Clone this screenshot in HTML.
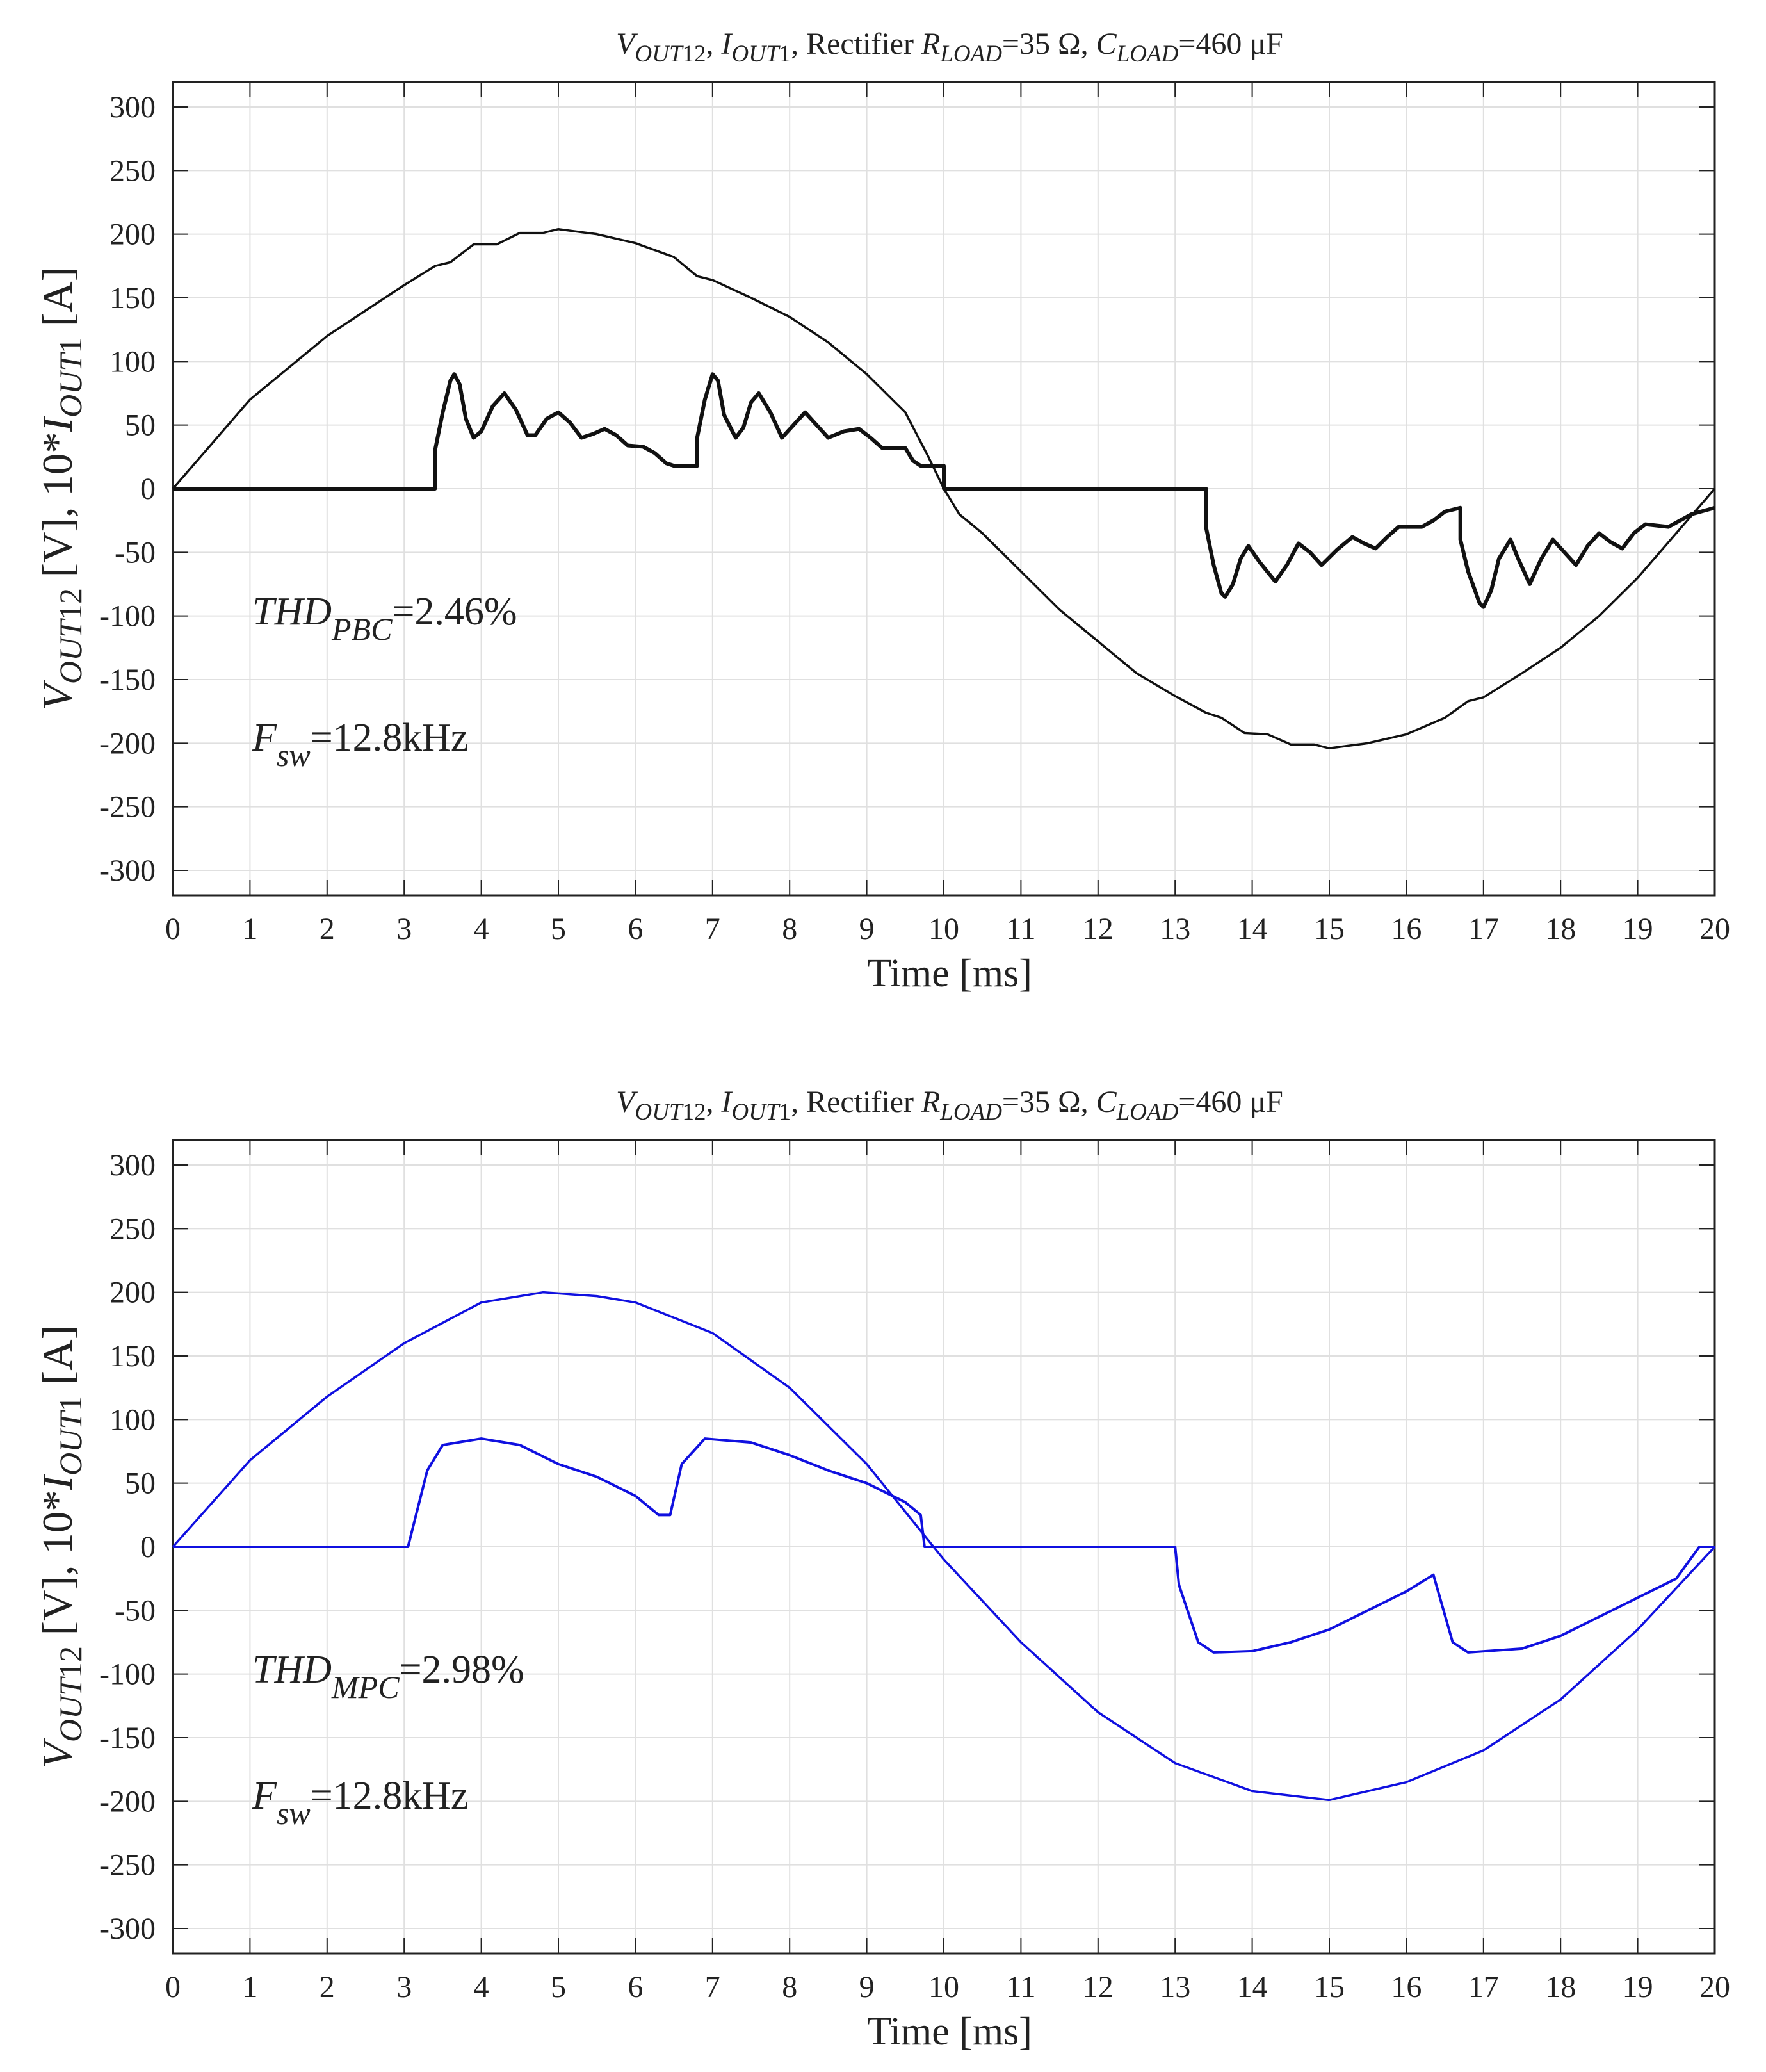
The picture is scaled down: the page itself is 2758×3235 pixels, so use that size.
<!DOCTYPE html>
<html><head><meta charset="utf-8"><style>
html,body{margin:0;padding:0;background:#fff;}
svg{display:block;font-family:"Liberation Serif",serif;}
</style></head><body>
<svg id="fig" width="2758" height="3235" xmlns="http://www.w3.org/2000/svg"></svg>
<script>
const xTicks=[0,1,2,3,4,5,6,7,8,9,10,11,12,13,14,15,16,17,18,19,20];
const yTicks=[300,250,200,150,100,50,0,-50,-100,-150,-200,-250,-300];
const pbcVt=[0,0.5,1,1.5,2,2.5,3,3.4,3.6,3.9,4.2,4.5,4.8,5,5.5,6,6.5,6.8,7,7.5,8,8.5,9,9.5,9.8,10,10.2,10.5,11,11.5,12,12.5,13,13.4,13.6,13.9,14.2,14.5,14.8,15,15.5,16,16.5,16.8,17,17.5,18,18.5,19,19.5,20];
const pbcV=[0,35,70,95,120,140,160,175,178,192,192,201,201,204,200,193,182,167,164,150,135,115,90,60,25,0,-20,-35,-65,-95,-120,-145,-163,-176,-180,-192,-193,-201,-201,-204,-200,-193,-180,-167,-164,-145,-125,-100,-70,-35,0];
const pbcIt=[0,3.4,3.4,3.5,3.6,3.65,3.72,3.8,3.9,4.0,4.15,4.3,4.45,4.6,4.7,4.85,5,5.15,5.3,5.45,5.6,5.75,5.9,6.1,6.25,6.4,6.5,6.8,6.8,6.9,7.0,7.07,7.15,7.3,7.4,7.5,7.6,7.75,7.9,8.05,8.2,8.35,8.5,8.7,8.9,9.05,9.2,9.5,9.6,9.7,10,10,13.4,13.4,13.5,13.6,13.65,13.75,13.85,13.95,14.1,14.3,14.45,14.6,14.75,14.9,15.1,15.3,15.45,15.6,15.75,15.9,16.2,16.35,16.5,16.7,16.7,16.8,16.95,17.0,17.1,17.2,17.35,17.45,17.6,17.75,17.9,18.05,18.2,18.35,18.5,18.65,18.8,18.95,19.1,19.4,19.55,19.7,20];
const pbcI=[0,0,30,60,85,90,82,55,40,45,65,75,62,42,42,55,60,52,40,43,47,42,34,33,28,20,18,18,40,70,90,85,58,40,48,68,75,60,40,50,60,50,40,45,47,40,32,32,22,18,18,0,0,-30,-60,-82,-85,-75,-55,-45,-58,-73,-60,-43,-50,-60,-48,-38,-43,-47,-38,-30,-30,-25,-18,-15,-40,-65,-90,-93,-80,-55,-40,-55,-75,-55,-40,-50,-60,-45,-35,-42,-47,-35,-28,-30,-25,-20,-15];
const mpcVt=[0,1,2,3,4,4.8,5.5,6,7,8,9,9.8,10,11,12,13,14,15,16,17,18,19,20];
const mpcV=[0,68,118,160,192,200,197,192,168,125,65,5,-10,-75,-130,-170,-192,-199,-185,-160,-120,-65,0];
const mpcIt=[0,3.05,3.3,3.5,4,4.5,5,5.5,6,6.3,6.45,6.6,6.9,7.5,8,8.5,9,9.5,9.7,9.75,13,13.05,13.3,13.5,14,14.5,15,15.5,16,16.35,16.6,16.8,17.5,18,18.5,19,19.5,19.8,20];
const mpcI=[0,0,60,80,85,80,65,55,40,25,25,65,85,82,72,60,50,35,25,0,0,-30,-75,-83,-82,-75,-65,-50,-35,-22,-75,-83,-80,-70,-55,-40,-25,0,0];

const NS="http://www.w3.org/2000/svg";
const svg=document.getElementById('fig');
function el(tag,attrs,parent){const e=document.createElementNS(NS,tag);for(const k in attrs)e.setAttribute(k,attrs[k]);(parent||svg).appendChild(e);return e;}
const L=270,R=2678;
function drawPanel(off,sub,vt,v,it,cur,color,vw,iw,pfx){
  const top=128+off,bot=1398+off,y300=167+off,y0=763+off;
  const sx=t=>L+(R-L)*t/20;
  const sy=val=>y0-(y0-y300)*val/300;
  const g=el('g',{});
  
  
  xTicks.forEach(t=>{const x=sx(t);
    const gl=el('line',{x1:x,x2:x,y1:top,y2:bot,stroke:'#e0e0e0','stroke-width':2},g);
    
    el('line',{x1:x,x2:x,y1:top,y2:top+24,stroke:'#222','stroke-width':2},g);
    el('line',{x1:x,x2:x,y1:bot,y2:bot-24,stroke:'#222','stroke-width':2},g);
    const tx=el('text',{x:x,y:bot+68,'font-size':48,'text-anchor':'middle',fill:'#222'},g);tx.textContent=t;
    
  });
  yTicks.forEach(val=>{const y=sy(val);
    const gl=el('line',{x1:L,x2:R,y1:y,y2:y,stroke:'#e0e0e0','stroke-width':2},g);
    
    el('line',{x1:L,x2:L+24,y1:y,y2:y,stroke:'#222','stroke-width':2},g);
    el('line',{x1:R,x2:R-24,y1:y,y2:y,stroke:'#222','stroke-width':2},g);
    const tx=el('text',{x:243,y:y+16,'font-size':48,'text-anchor':'end',fill:'#222'},g);tx.textContent=val;
    
  });
  const fr=el('rect',{x:L,y:top,width:R-L,height:bot-top,fill:'none',stroke:'#222','stroke-width':3},g);
  
  const p1=el('polyline',{points:vt.map((t,i)=>sx(t)+','+sy(v[i])).join(' '),fill:'none',stroke:color,'stroke-width':vw,'stroke-linejoin':'round'},g);
  
  const p2=el('polyline',{points:it.map((t,i)=>sx(t)+','+sy(cur[i])).join(' '),fill:'none',stroke:color,'stroke-width':iw,'stroke-linejoin':'round'},g);
  
  const ti=el('text',{x:1483,y:84+off,'font-size':48,'text-anchor':'middle',fill:'#222'},g);
  
  ti.innerHTML='<tspan font-style="italic">V</tspan><tspan font-style="italic" font-size="37" dy="12">OUT</tspan><tspan font-size="37">12</tspan><tspan dy="-12">, </tspan><tspan font-style="italic">I</tspan><tspan font-style="italic" font-size="37" dy="12">OUT</tspan><tspan font-size="37">1</tspan><tspan dy="-12">, Rectifier </tspan><tspan font-style="italic">R</tspan><tspan font-style="italic" font-size="37" dy="12">LOAD</tspan><tspan dy="-12">=35 Ω, </tspan><tspan font-style="italic">C</tspan><tspan font-style="italic" font-size="37" dy="12">LOAD</tspan><tspan dy="-12">=460 μF</tspan>';
  const xl=el('text',{x:1483,y:1540+off,'font-size':62,'text-anchor':'middle',fill:'#222'},g);xl.textContent='Time [ms]';
  
  const yl=el('text',{x:0,y:0,'font-size':67,'text-anchor':'middle',fill:'#222',transform:'translate(112,'+(763+off)+') rotate(-90)'},g);
  
  yl.innerHTML='<tspan font-style="italic">V</tspan><tspan font-style="italic" font-size="50" dy="15">OUT</tspan><tspan font-size="50">12</tspan><tspan dy="-15"> [V], 10*</tspan><tspan font-style="italic">I</tspan><tspan font-style="italic" font-size="50" dy="15">OUT</tspan><tspan font-size="50">1</tspan><tspan dy="-15"> [A]</tspan>';
  const th=el('text',{x:394,y:975+off,'font-size':62,fill:'#222'},g);
  
  th.innerHTML='<tspan font-style="italic">THD</tspan><tspan font-style="italic" font-size="50" dy="24">'+sub[0]+'</tspan><tspan dy="-24">='+sub[1]+'</tspan>';
  const fs=el('text',{x:394,y:1172+off,'font-size':62,fill:'#222'},g);
  
  fs.innerHTML='<tspan font-style="italic">F</tspan><tspan font-style="italic" font-size="50" dy="24">sw</tspan><tspan dy="-24">=12.8kHz</tspan>';
}
drawPanel(0,['PBC','2.46%'],pbcVt,pbcV,pbcIt,pbcI,'#111',3.5,6,'pbc');
drawPanel(1652,['MPC','2.98%'],mpcVt,mpcV,mpcIt,mpcI,'#1010e0',3.5,4,'mpc');
</script>
</body></html>
